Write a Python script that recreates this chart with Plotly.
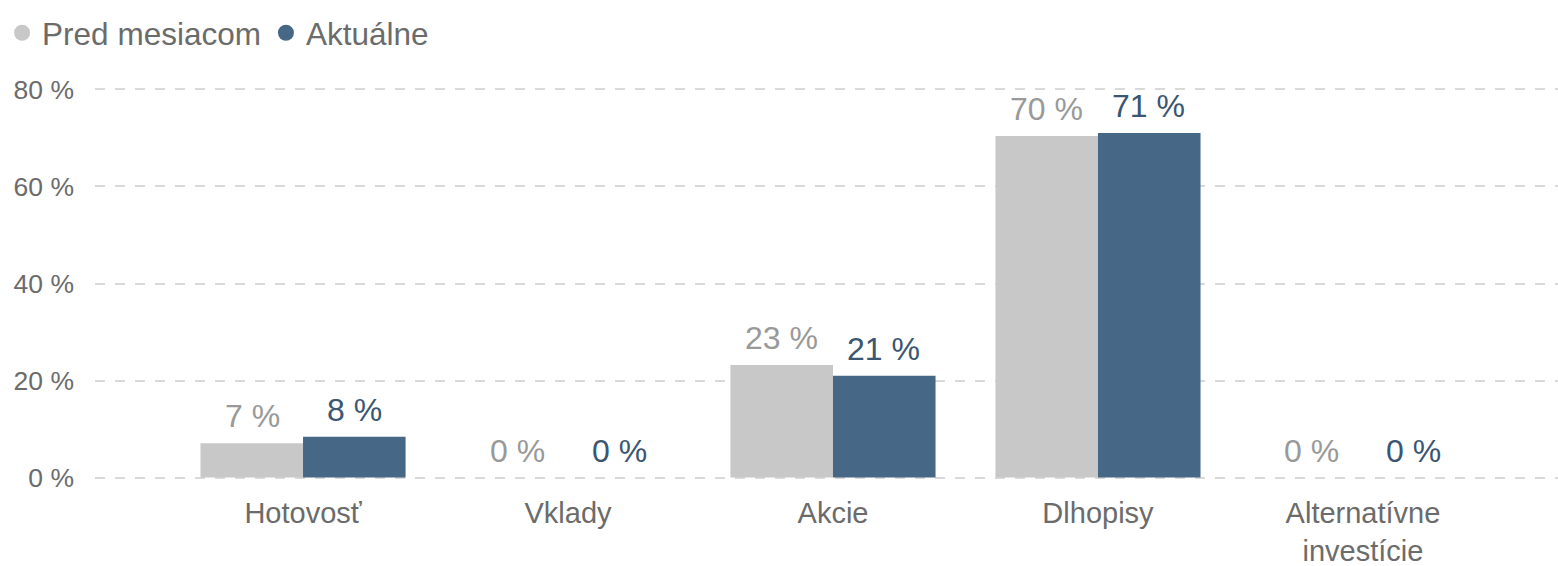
import plotly.graph_objects as go

categories = ["Hotovosť", "Vklady", "Akcie", "Dlhopisy", "Alternatívne<br>investície"]
prev_values = [7.1, 0, 23.2, 70.4, 0]
curr_values = [8.4, 0, 21.0, 71.0, 0]
series_names = ["Pred mesiacom", "Aktuálne"]
tick_vals = [0, 20, 40, 60, 80]
tick_text = ["0 %", "20 %", "40 %", "60 %", "80 %"]

GREY = "#c8c8c8"
BLUE = "#466886"
GREY_TXT = "#999999"
BLUE_TXT = "#3a5672"
AXIS_TXT = "#6b6b6b"
FONT = "Liberation Sans, Arial, sans-serif"

fig = go.Figure()
for name, vals, col in [(series_names[0], prev_values, GREY), (series_names[1], curr_values, BLUE)]:
    fig.add_trace(go.Bar(x=categories, y=vals, name=name, marker=dict(color=col, line=dict(width=0)),
                         showlegend=False, hoverinfo="skip"))
# legend entries with circle markers
for name, col in [(series_names[0], GREY), (series_names[1], BLUE)]:
    fig.add_trace(go.Scatter(x=[None], y=[None], mode="markers", name=name,
                             marker=dict(color=col, size=19, symbol="circle")))

annotations = []
for vals, shift, col in [(prev_values, -51, GREY_TXT), (curr_values, 51, BLUE_TXT)]:
    for c, v in zip(categories, vals):
        annotations.append(dict(x=c, y=v, xref="x", yref="y", text=f"{v:.0f} %", showarrow=False,
                                xshift=shift, yanchor="bottom", yshift=7,
                                font=dict(family=FONT, size=32, color=col)))

fig.update_layout(
    width=1558, height=566,
    margin=dict(l=95, r=0, t=87, b=86, autoexpand=False),
    paper_bgcolor="white", plot_bgcolor="white",
    barmode="group", bargap=0.226, bargroupgap=0,
    font=dict(family=FONT, color=AXIS_TXT),
    legend=dict(orientation="h", x=-0.0635, xanchor="left", y=1.138, yanchor="middle",
                font=dict(family=FONT, size=31.5, color=AXIS_TXT), itemwidth=30,
                tracegroupgap=0, bgcolor="rgba(0,0,0,0)"),
    annotations=annotations,
    xaxis=dict(type="category", range=[-0.785, 4.736], showgrid=False, showline=False, zeroline=False,
               ticks="", automargin=False,
               tickfont=dict(family=FONT, size=29, color=AXIS_TXT), ticklabelstandoff=13),
    yaxis=dict(range=[-0.5, 80.5], tickvals=tick_vals, ticktext=tick_text, showgrid=True,
               gridcolor="#d9d9d9", gridwidth=2, griddash="10px,10px", zeroline=False,
               showline=False, ticks="", automargin=False,
               tickfont=dict(family=FONT, size=26.5, color=AXIS_TXT),
               ticklabelstandoff=20),
)

fig.write_html("out.html", config={"displayModeBar": False},
               post_script="document.body.style.margin='0';")
